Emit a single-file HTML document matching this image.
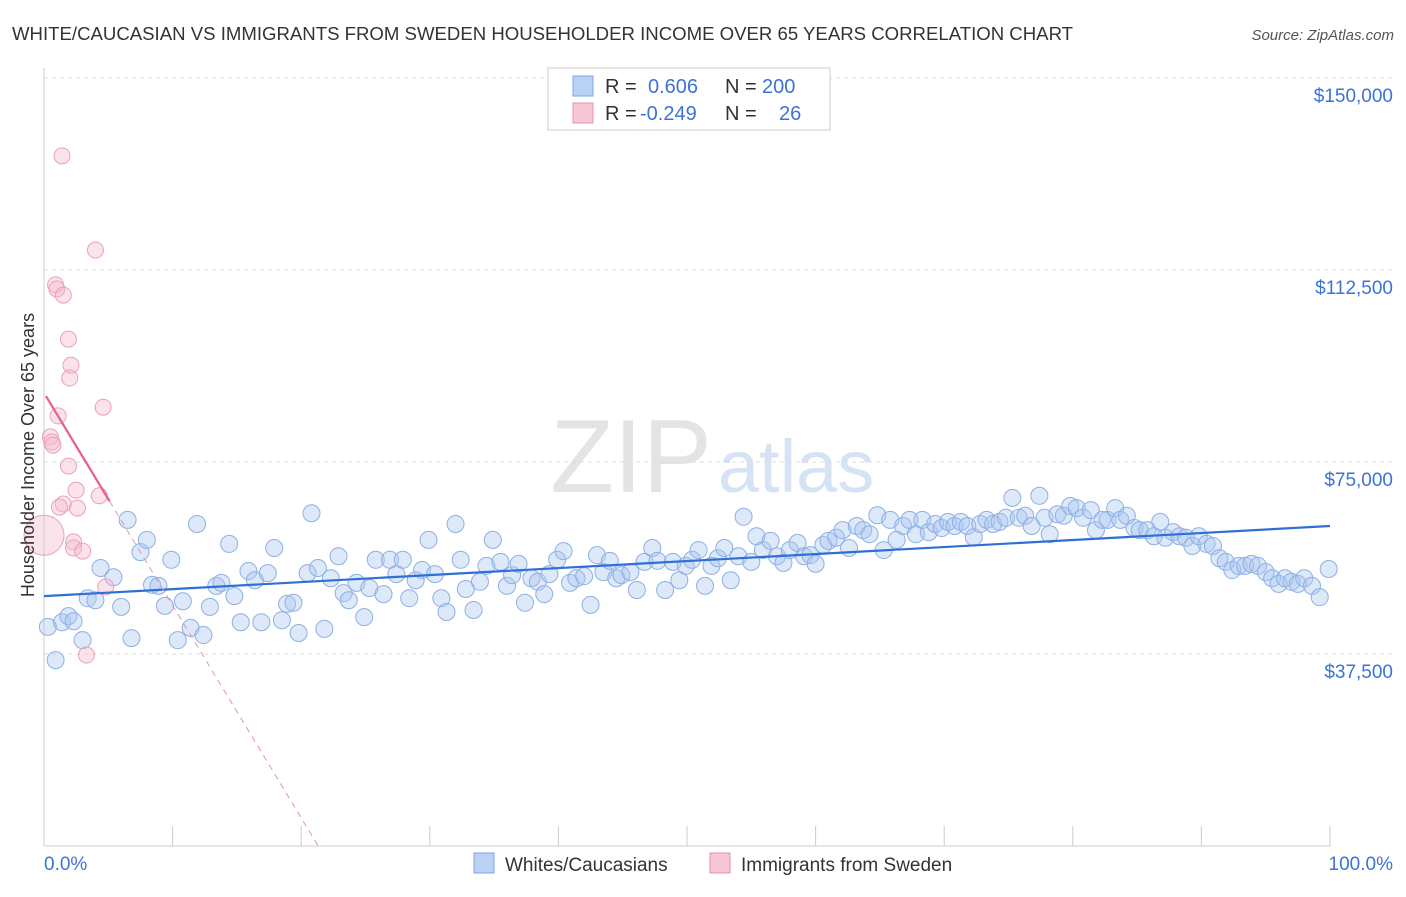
<!DOCTYPE html>
<html><head><meta charset="utf-8"><style>
body{margin:0;background:#fff;font-family:"Liberation Sans",sans-serif;}
svg text{font-family:"Liberation Sans",sans-serif;}
</style></head><body>
<svg id="chart" width="1406" height="892" xmlns="http://www.w3.org/2000/svg">
<text x="12" y="40" font-size="18.6" fill="#333">WHITE/CAUCASIAN VS IMMIGRANTS FROM SWEDEN HOUSEHOLDER INCOME OVER 65 YEARS CORRELATION CHART</text>
<text x="1394" y="40" font-size="15" fill="#555" text-anchor="end" font-style="italic">Source: ZipAtlas.com</text>
<text x="712" y="492" font-size="104" fill="#e4e4e4" text-anchor="end" font-family="Liberation Serif">ZIP</text>
<text x="718" y="492" font-size="74" fill="#d6e3f5">atlas</text>
<g id="grid"></g>
<g id="axes"></g>
<g id="marks"></g>
<g>
<rect x="548" y="68" width="282" height="62" fill="#fff" stroke="#ccc"/>
<rect x="573" y="76" width="20" height="20" fill="#b9d1f5" stroke="#7fa6e0"/>
<text x="605" y="93" font-size="20" fill="#333">R = </text><text x="648" y="93" font-size="20" fill="#3b73d6">0.606</text>
<text x="725" y="93" font-size="20" fill="#333">N = </text><text x="762" y="93" font-size="20" fill="#3b73d6">200</text>
<rect x="573" y="103" width="20" height="20" fill="#f7c6d4" stroke="#e890aa"/>
<text x="605" y="120" font-size="20" fill="#333">R = </text><text x="640" y="120" font-size="20" fill="#3b73d6">-0.249</text>
<text x="725" y="120" font-size="20" fill="#333">N = </text><text x="779" y="120" font-size="20" fill="#3b73d6">26</text>
</g>
<g>
<rect x="474" y="853" width="20" height="20" fill="#b9d1f5" stroke="#7fa6e0"/>
<text x="505" y="871" font-size="19" fill="#333">Whites/Caucasians</text>
<rect x="710" y="853" width="20" height="20" fill="#f7c6d4" stroke="#e890aa"/>
<text x="741" y="871" font-size="19" fill="#333">Immigrants from Sweden</text>
</g>
<text x="44" y="870" font-size="19" fill="#3b73d6">0.0%</text>
<text x="1393" y="870" font-size="19" fill="#3b73d6" text-anchor="end">100.0%</text>
<text transform="translate(34,455) rotate(-90)" font-size="18" fill="#333" text-anchor="middle">Householder Income Over 65 years</text>
</svg>
<script>
const yTicks=[37.5,75,112.5,150];
const yTickLabels=["$37,500","$75,000","$112,500","$150,000"];
const blueX=[0.3,0.9,1.4,1.9,2.3,3.0,3.4,4.0,4.4,5.4,6.0,6.5,6.8,7.5,8.0,8.4,8.9,9.4,9.9,10.4,10.8,11.4,11.9,12.4,12.9,13.4,13.8,14.4,14.8,15.3,15.9,16.4,16.9,17.4,17.9,18.5,18.9,19.4,19.8,20.5,20.8,21.3,21.8,22.3,22.9,23.3,23.7,24.3,24.9,25.3,25.8,26.4,26.9,27.4,27.9,28.4,28.9,29.4,29.9,30.4,30.9,31.3,32.0,32.4,32.8,33.4,33.9,34.4,34.9,35.5,36.0,36.4,36.9,37.4,37.9,38.4,38.9,39.3,39.9,40.4,40.9,41.4,42.0,42.5,43.0,43.5,44.0,44.5,44.9,45.6,46.1,46.7,47.3,47.7,48.3,48.9,49.4,49.9,50.4,50.9,51.4,51.9,52.4,52.9,53.4,54.0,54.4,55.0,55.4,55.9,56.5,57.0,57.5,58.0,58.6,59.1,59.6,60.0,60.6,61.0,61.6,62.1,62.6,63.2,63.7,64.2,64.8,65.3,65.8,66.3,66.8,67.3,67.8,68.3,68.8,69.3,69.8,70.3,70.8,71.3,71.8,72.3,72.8,73.3,73.8,74.3,74.8,75.3,75.8,76.3,76.8,77.4,77.8,78.2,78.8,79.3,79.8,80.3,80.8,81.4,81.8,82.3,82.7,83.3,83.7,84.2,84.8,85.2,85.8,86.3,86.8,87.2,87.8,88.3,88.8,89.3,89.8,90.4,90.9,91.4,91.9,92.4,92.9,93.4,93.9,94.4,95.0,95.5,96.0,96.5,97.0,97.5,98.0,98.6,99.2,99.9];
const blueY=[42.8,36.3,43.7,44.9,43.9,40.2,48.4,48.0,54.3,52.5,46.7,63.7,40.6,57.4,59.8,51.0,50.8,46.9,55.9,40.2,47.8,42.6,62.9,41.2,46.7,50.8,51.4,59.0,48.8,43.7,53.7,51.9,43.7,53.3,58.2,44.1,47.3,47.5,41.6,53.3,65.0,54.3,42.4,52.3,56.6,49.4,48.0,51.4,44.7,50.4,55.9,49.2,55.9,53.1,55.9,48.4,51.9,53.9,59.8,53.1,48.4,45.7,62.9,55.9,50.2,46.1,51.6,54.7,59.8,55.5,50.8,52.9,55.1,47.5,52.3,51.6,49.2,53.1,55.9,57.6,51.4,52.3,52.7,47.1,56.8,53.5,55.7,52.3,52.9,53.5,50.0,55.5,58.2,55.7,50.0,55.5,51.9,54.7,55.9,57.8,50.8,54.7,56.2,58.2,51.9,56.6,64.3,55.5,60.5,57.8,59.6,56.6,55.3,57.8,59.2,56.6,56.8,55.1,58.8,59.6,60.2,61.7,58.2,62.5,61.7,60.9,64.6,57.8,63.7,59.8,62.5,63.7,60.9,63.7,61.3,62.9,62.1,63.3,62.5,63.3,62.5,60.3,62.9,63.7,62.9,63.3,64.1,68.0,64.1,64.5,62.5,68.4,64.1,60.9,64.8,64.5,66.4,66.0,64.1,65.6,61.7,63.7,63.7,66.0,63.7,64.5,62.1,61.7,61.7,60.5,63.3,60.2,61.3,60.5,60.2,58.6,60.5,59.0,58.6,56.2,55.5,53.9,54.7,54.7,55.1,54.7,53.5,52.3,51.2,52.3,51.6,51.2,52.3,50.8,48.6,54.1];
const pinkX=[1.4,4.0,0.9,1.0,1.5,1.9,2.1,2.0,4.6,1.1,0.5,0.6,0.7,1.9,2.5,1.5,4.3,1.2,2.6,2.3,2.3,3.0,4.8,3.3,0];
const pinkY=[134.8,116.4,109.6,108.8,107.6,99.0,93.9,91.4,85.7,84.0,79.9,78.9,78.3,74.2,69.5,66.8,68.4,66.2,66.0,59.4,58.2,57.6,50.6,37.3,60.7];
const pinkR=[8,8,8,8,8,8,8,8,8,8,8,8,8,8,8,8,8,8,8,8,8,8,8,8,20];
const blueLine=[48.8,62.5];
const pinkLine=[88.5,-4.15];
const pinkSolidEnd=5.1;

const X0=44,X1=1330,YB=846,PX=192/37.5;
const xs=p=>X0+(X1-X0)*p/100;
const ys=v=>YB-v*PX;
const NS="http://www.w3.org/2000/svg";
function mk(tag,attrs,parent){const e=document.createElementNS(NS,tag);for(const k in attrs)e.setAttribute(k,attrs[k]);parent.appendChild(e);return e;}
const grid=document.getElementById('grid'),axes=document.getElementById('axes'),marks=document.getElementById('marks');
yTicks.forEach((t,i)=>{
 const l=mk('line',{x1:X0,x2:1393,y1:ys(t),y2:ys(t),stroke:'#ddd','stroke-dasharray':'4,4'},grid);
 
 
 const tx=mk('text',{x:1393,y:ys(t)+24,'font-size':19,fill:'#3b73d6','text-anchor':'end'},axes);
 tx.textContent=yTickLabels[i];
 
 
});
const ax=mk('line',{x1:X0,x2:X0,y1:68,y2:YB,stroke:'#ccc'},axes);


const bx=mk('line',{x1:X0,x2:X1,y1:YB,y2:YB,stroke:'#ccc'},axes);


for(let i=0;i<=10;i++){const t=mk('line',{x1:xs(i*10),x2:xs(i*10),y1:826,y2:YB,stroke:'#ccc'},axes);
 
 }
blueX.forEach((x,i)=>{const c=mk('circle',{cx:xs(x),cy:ys(blueY[i]),r:8.5,fill:'rgba(170,198,240,0.4)',stroke:'#8db0e4','stroke-width':1},marks);
 
 });
pinkX.forEach((x,i)=>{const c=mk('circle',{cx:xs(x),cy:ys(pinkY[i]),r:pinkR[i],fill:'rgba(245,185,205,0.4)',stroke:'#eca0b8','stroke-width':1},marks);
 
 });
const bl=mk('line',{x1:xs(0),y1:ys(blueLine[0]),x2:xs(100),y2:ys(blueLine[1]),stroke:'#2f6fd6','stroke-width':2.2},marks);


const pz=-pinkLine[0]/pinkLine[1];
const pd=mk('line',{x1:xs(pinkSolidEnd),y1:ys(pinkLine[0]+pinkLine[1]*pinkSolidEnd),x2:xs(pz),y2:ys(0),stroke:'#e890aa','stroke-width':1,'stroke-dasharray':'6,5'},marks);


const ps=mk('line',{x1:xs(0.15),y1:ys(pinkLine[0]+pinkLine[1]*0.15),x2:xs(pinkSolidEnd),y2:ys(pinkLine[0]+pinkLine[1]*pinkSolidEnd),stroke:'#e8608a','stroke-width':2.2},marks);


</script>
</body></html>
